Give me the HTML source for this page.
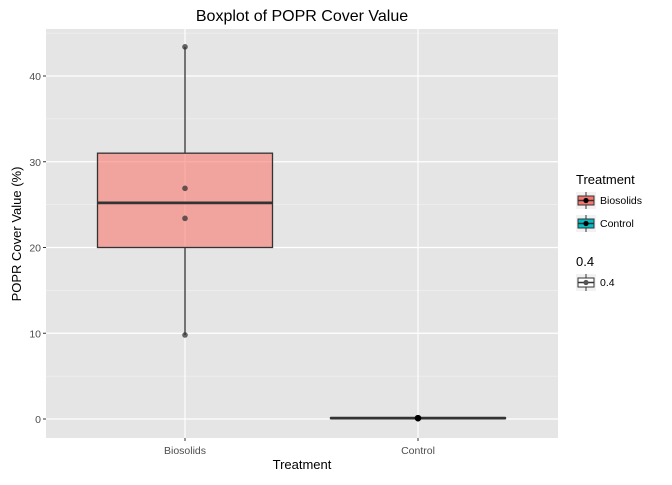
<!DOCTYPE html>
<html><head><meta charset="utf-8"><style>
body{margin:0;background:#fff;}
text{font-family:"Liberation Sans",sans-serif;}
</style></head><body>
<svg id="c" width="672" height="480" xmlns="http://www.w3.org/2000/svg"></svg>
<script>
const categories=["Biosolids","Control"];
const q1=[20,0.05];
const medians=[25.2,0.1];
const q3=[31,0.15];
const whiskLow=[9.8,0.05];
const whiskHigh=[43.4,0.15];
const pointsB=[43.4,26.9,23.4,9.8];
const pointsC=[0.1,0.1,0.1,0.1];
const yTicks=[0,10,20,30,40];
const yMinor=[5,15,25,35,45];
const fills=["#F8766D","#00BFC4"];

const NS="http://www.w3.org/2000/svg";
const svg=document.getElementById('c');
const L=46,R=558,T=29,B=438;
function y(v){return 419-8.575*v;}
function x(i){return 185+i*233;}
function el(tag,attrs,parent){const e=document.createElementNS(NS,tag);for(const k in attrs)e.setAttribute(k,attrs[k]);(parent||svg).appendChild(e);return e;}

const panel=el('rect',{x:L,y:T,width:R-L,height:B-T,fill:'#E5E5E5'});


yMinor.forEach(v=>{const g=el('line',{x1:L,x2:R,y1:y(v),y2:y(v),stroke:'#F5F5F5','stroke-width':0.6});

});
yTicks.forEach(v=>{const g=el('line',{x1:L,x2:R,y1:y(v),y2:y(v),stroke:'#fff','stroke-width':1.2});


const tk=el('line',{x1:L-3,x2:L,y1:y(v),y2:y(v),stroke:'#333'});


const t=el('text',{x:L-5,y:y(v)+4,'text-anchor':'end','font-size':'10.5',fill:'#4D4D4D'});t.textContent=v;

});
categories.forEach((c,i)=>{const g=el('line',{x1:x(i),x2:x(i),y1:T,y2:B,stroke:'#fff','stroke-width':1.2});


const tk=el('line',{x1:x(i),x2:x(i),y1:B,y2:B+3,stroke:'#333'});


const t=el('text',{x:x(i),y:B+16,'text-anchor':'middle','font-size':'10.5',fill:'#4D4D4D'});t.textContent=c;

});

categories.forEach((c,i)=>{const g=el('g',{});


el('line',{x1:x(i),x2:x(i),y1:y(whiskHigh[i]),y2:y(q3[i]),stroke:'#333','stroke-width':1.3},g);
el('line',{x1:x(i),x2:x(i),y1:y(q1[i]),y2:y(whiskLow[i]),stroke:'#333','stroke-width':1.3},g);
el('rect',{x:x(i)-87.5,y:y(q3[i]),width:175,height:Math.max(0.5,y(q1[i])-y(q3[i])),fill:fills[i],'fill-opacity':0.6,stroke:'#333','stroke-width':1.3},g);
el('line',{x1:x(i)-87.5,x2:x(i)+87.5,y1:y(medians[i]),y2:y(medians[i]),stroke:'#333','stroke-width':2.8},g);});
pointsB.forEach(v=>{const p=el('circle',{cx:x(0),cy:y(v),r:2.8,fill:'#333','fill-opacity':0.75});

});
pointsC.forEach(v=>{const p=el('circle',{cx:x(1),cy:y(v),r:3.2,fill:'#000','fill-opacity':0.75});

});

function txt(s,a,name){const t=el('text',a);t.textContent=s;return t;}
txt('Boxplot of POPR Cover Value',{x:302,y:21,'text-anchor':'middle','font-size':'16',fill:'#000'},'chart-title');
txt('Treatment',{x:302,y:469,'text-anchor':'middle','font-size':'13',fill:'#000'},'x-axis-title');
txt('POPR Cover Value (%)',{x:21,y:234,'text-anchor':'middle','font-size':'13',fill:'#000',transform:'rotate(-90 21 234)'},'y-axis-title');

txt('Treatment',{x:576,y:184,'font-size':'13',fill:'#000'},'legend-title');
function key(yy,fill,label,dark){const g=el('g',{});


el('rect',{x:576,y:yy,width:20,height:17,fill:'#F2F2F2'},g);
el('line',{x1:586,x2:586,y1:yy,y2:yy+17,stroke:'#333'},g);
el('rect',{x:578,y:yy+4,width:16,height:9,fill:fill,stroke:'#333'},g);
el('line',{x1:578,x2:594,y1:yy+8.5,y2:yy+8.5,stroke:'#333','stroke-width':1.5},g);
el('circle',{cx:586,cy:yy+8.5,r:2.6,fill:dark},g);
const t=el('text',{x:600,y:yy+12,'font-size':'10.5',fill:'#000'},g);t.textContent=label;}
key(192,'#F8766D','Biosolids','#000');
key(215,'#00BFC4','Control','#000');
txt('0.4',{x:576,y:266,'font-size':'13',fill:'#000'},'legend-alpha-title');
key(274,'#fff','0.4','#555');
</script>
</body></html>
